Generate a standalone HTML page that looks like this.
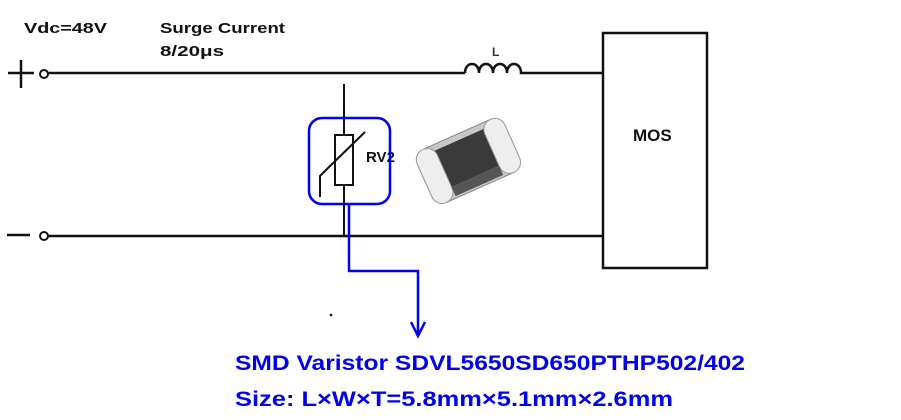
<!DOCTYPE html>
<html><head><style>
html,body{margin:0;padding:0;background:#fff;}
svg{display:block;}
text{font-family:"Liberation Sans",sans-serif;font-weight:bold;}
</style></head><body>
<svg width="901" height="420" viewBox="0 0 901 420" xmlns="http://www.w3.org/2000/svg">
<rect width="901" height="420" fill="#fff"/>
<text x="24" y="33" font-size="15" fill="#111" textLength="83" lengthAdjust="spacingAndGlyphs">Vdc=48V</text>
<text x="160" y="33" font-size="15" fill="#111" textLength="125" lengthAdjust="spacingAndGlyphs">Surge Current</text>
<text x="160" y="56" font-size="15" fill="#111" textLength="64" lengthAdjust="spacingAndGlyphs">8/20μs</text>
<text x="492" y="56" font-size="12" fill="#333" font-weight="normal">L</text>
<!-- plus / minus -->
<path d="M8 73 H34 M21 60 V88" stroke="#111" stroke-width="2.5"/>
<path d="M7 235 H30" stroke="#111" stroke-width="2.5"/>
<circle cx="44" cy="74" r="4" fill="#fff" stroke="#111" stroke-width="2"/>
<circle cx="44" cy="236" r="4" fill="#fff" stroke="#111" stroke-width="2"/>
<!-- wires -->
<path d="M48 73 H465 M528 73 H603" stroke="#111" stroke-width="2.5" fill="none"/>
<path d="M465 73 c0 -12 14 -12 14 0 c0 -12 14 -12 14 0 c0 -12 14 -12 14 0 c0 -12 14 -12 14 0 h7" stroke="#111" stroke-width="2.5" fill="none"/>
<path d="M48 236 H603" stroke="#111" stroke-width="2.5"/>
<path d="M344 84 V135 M344 185 V236" stroke="#111" stroke-width="2"/>
<rect x="335" y="135" width="18" height="50" fill="#fff" stroke="#111" stroke-width="2"/>
<path d="M320 197 V176 L328 168 L365 132" stroke="#111" stroke-width="2" fill="none"/>
<text x="366" y="162" font-size="15" fill="#111">RV2</text>
<!-- MOS -->
<rect x="603" y="33" width="104" height="235" fill="#fff" stroke="#111" stroke-width="2.5"/>
<text x="633" y="141" font-size="17" fill="#111">MOS</text>
<!-- chip -->
<g transform="rotate(-24 468 160)">
<rect x="420" y="132" width="96" height="58" rx="14" fill="#c8c8c8" stroke="#888"/>
<rect x="440" y="138" width="56" height="40" fill="#3a3a3a"/>
<rect x="420" y="132" width="22" height="58" rx="11" fill="#eee" stroke="#999"/>
<rect x="494" y="132" width="22" height="58" rx="11" fill="#eee" stroke="#999"/>
<rect x="442" y="178" width="52" height="10" fill="#555"/>
</g>
<!-- blue -->
<rect x="309" y="118" width="81" height="86" rx="13" fill="none" stroke="#0000ee" stroke-width="2.5"/>
<path d="M349 204 V271 H418 V336" stroke="#0000ee" stroke-width="2.5" fill="none"/>
<path d="M411 322 L418 336 L425 322" stroke="#0000ee" stroke-width="2.5" fill="none"/>
<circle cx="331" cy="315" r="1.3" fill="#111"/>
<text x="235" y="370" font-size="21" fill="#0000ee" textLength="510" lengthAdjust="spacingAndGlyphs">SMD Varistor SDVL5650SD650PTHP502/402</text>
<text x="235" y="406" font-size="21" fill="#0000ee" textLength="438" lengthAdjust="spacingAndGlyphs">Size: L×W×T=5.8mm×5.1mm×2.6mm</text>
</svg>
</body></html>
